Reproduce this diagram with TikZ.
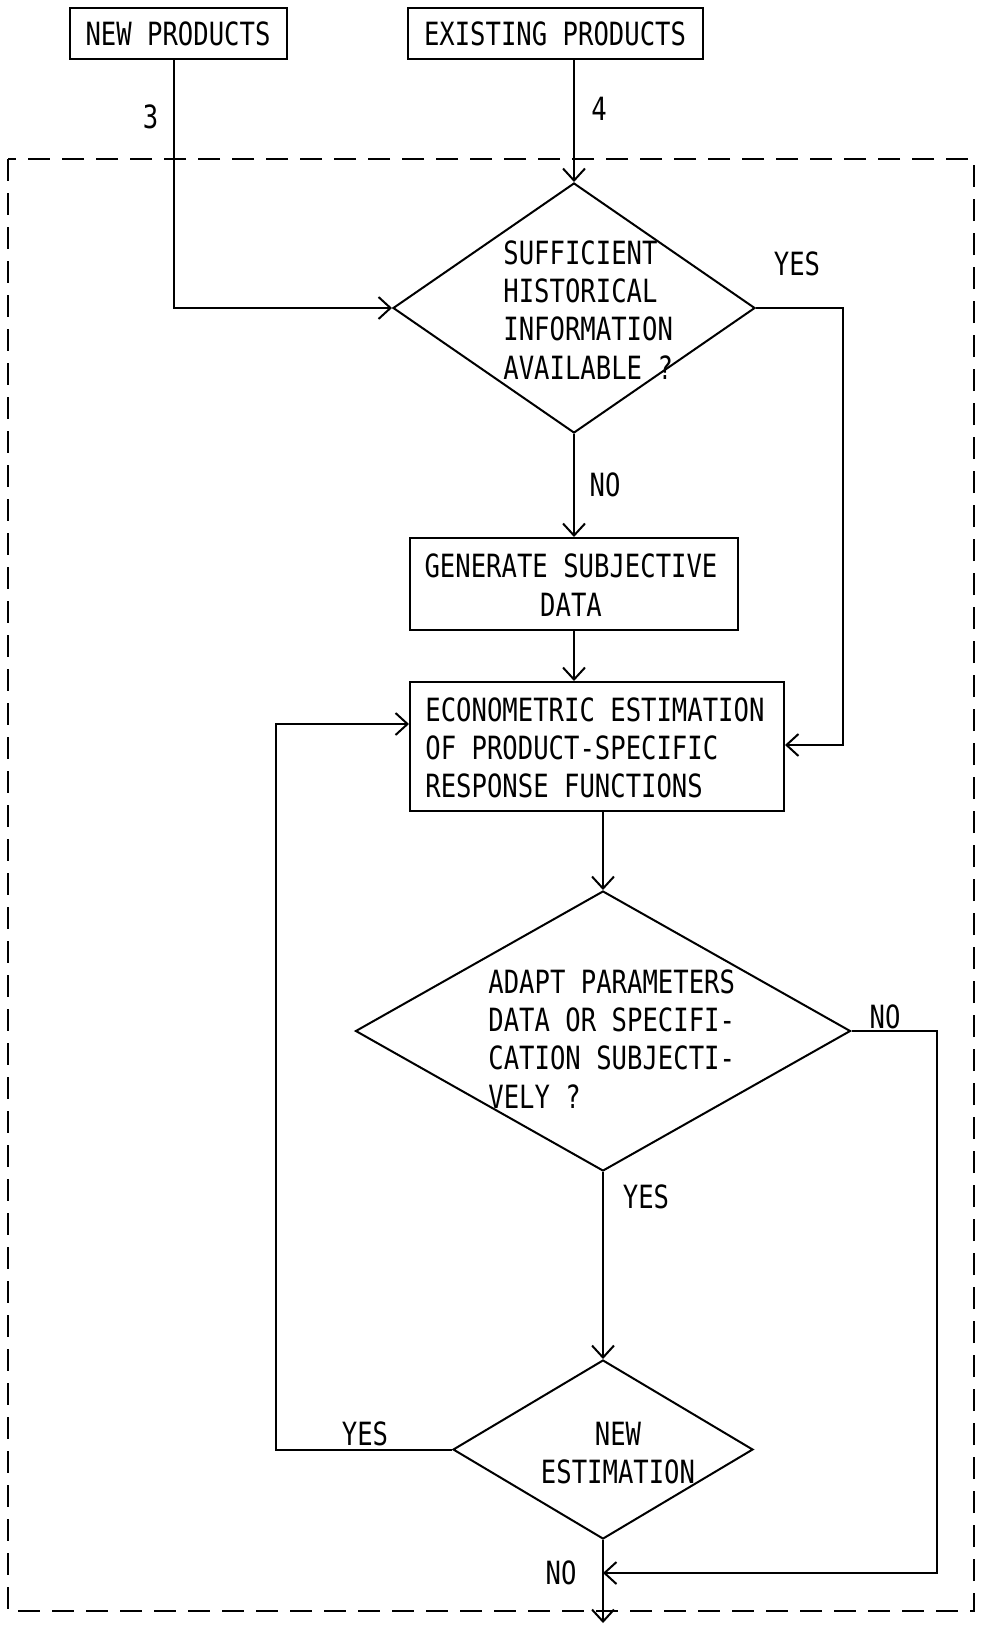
\documentclass[tikz,border=0pt]{standalone}
\usepackage{fontspec}
\newfontfamily\dvm[FakeStretch=0.8]{DejaVu Sans Mono}
\usetikzlibrary{shapes.geometric,arrows.meta,calc}
\begin{document}
\begin{tikzpicture}[x=0.5pt,y=-0.5pt,
  every node/.style={font=\dvm\fontsize{16}{19.2}\selectfont},
  box/.style={draw,line width=1pt,inner sep=0pt,rectangle},
  dia/.style={draw,line width=1pt,diamond,inner sep=0pt},
  txt/.style={inner sep=0pt},
  conn/.style={line width=1pt},
  arr/.style={line width=1pt,-{Straight Barb[length=6pt,width=11pt,line width=1pt]}},
  frame/.style={line width=1.1pt,dash pattern=on 11pt off 6pt}]
\useasboundingbox (0,0) rectangle (981,1627);
% dashed frame
\draw[frame] (8,159) rectangle (974,1611);
% source boxes
\node[box,minimum width=108.5pt,minimum height=25.5pt] (new) at (178,33.5) {NEW PRODUCTS};
\node[box,minimum width=147.5pt,minimum height=25.5pt] (exist) at (555,33.5) {EXISTING PRODUCTS};
% decisions and processes
\node[dia,minimum width=181pt,minimum height=125pt] (d1) at (574,308) {};
\node[txt,anchor=north west,align=left] (d1t) at (503,240) {SUFFICIENT\\HISTORICAL\\INFORMATION\\AVAILABLE ?};
\node[box,minimum width=164pt,minimum height=46pt] (gen) at (574,584) {};
\node[txt,align=center] (gent) at (571,585) {GENERATE SUBJECTIVE\\DATA};
\node[box,minimum width=187pt,minimum height=64.5pt] (econ) at (597,746.5) {};
\node[txt,anchor=north west,align=left] (econt) at (425,697) {ECONOMETRIC ESTIMATION\\OF PRODUCT-SPECIFIC\\RESPONSE FUNCTIONS};
\node[dia,minimum width=247.5pt,minimum height=140pt] (d2) at (603,1031) {};
\node[txt,anchor=north west,align=left] (d2t) at (488,969) {ADAPT PARAMETERS\\DATA OR SPECIFI-\\CATION SUBJECTI-\\VELY ?};
\node[dia,minimum width=150pt,minimum height=89.5pt] (d3) at (603,1449.5) {};
\node[txt,align=center] (d3t) at (618,1453) {NEW\\ESTIMATION};
% helper coordinates
\coordinate (c1) at (174,308);
\coordinate (c2) at (843,308);
\coordinate (c3) at (843,745);
\coordinate (c4) at (937,1031);
\coordinate (c5) at (937,1573);
\coordinate (c6) at (603,1573);
\coordinate (c7) at (276,1449.5);
\coordinate (c8) at (276,724);
\coordinate (out) at (603,1623);
% connectors
\draw[arr] (new.south -| c1) -- (c1) -- (d1.west);
\draw[arr] (exist.south -| d1.north) -- (d1.north);
\draw[arr] (d1.south) -- (gen.north);
\draw[arr] (gen.south) -- (gen.south |- econ.north);
\draw[arr] (d1.east) -- (c2) -- (c3) -- (c3 -| econ.east);
\draw[arr] (econ.south -| d2.north) -- (d2.north);
\draw[arr] (d2.south) -- (d3.north);
\draw[arr] (d2.east) -- (c4) -- (c5) -- (c6);
\draw[arr] (d3.west) -- (c7) -- (c8) -- (c8 -| econ.west);
\draw[arr] (d3.south) -- (out);
% labels
\node[txt] (l3) at (150.5,117) {3};
\node[txt] (l4) at (599,109) {4};
\node[txt] (yes1) at (797,264) {YES};
\node[txt] (no1) at (605,485) {NO};
\node[txt] (no2) at (885,1017) {NO};
\node[txt] (yes2) at (646,1197) {YES};
\node[txt] (yes3) at (365,1434) {YES};
\node[txt] (no3) at (561,1573) {NO};
\end{tikzpicture}
\end{document}
